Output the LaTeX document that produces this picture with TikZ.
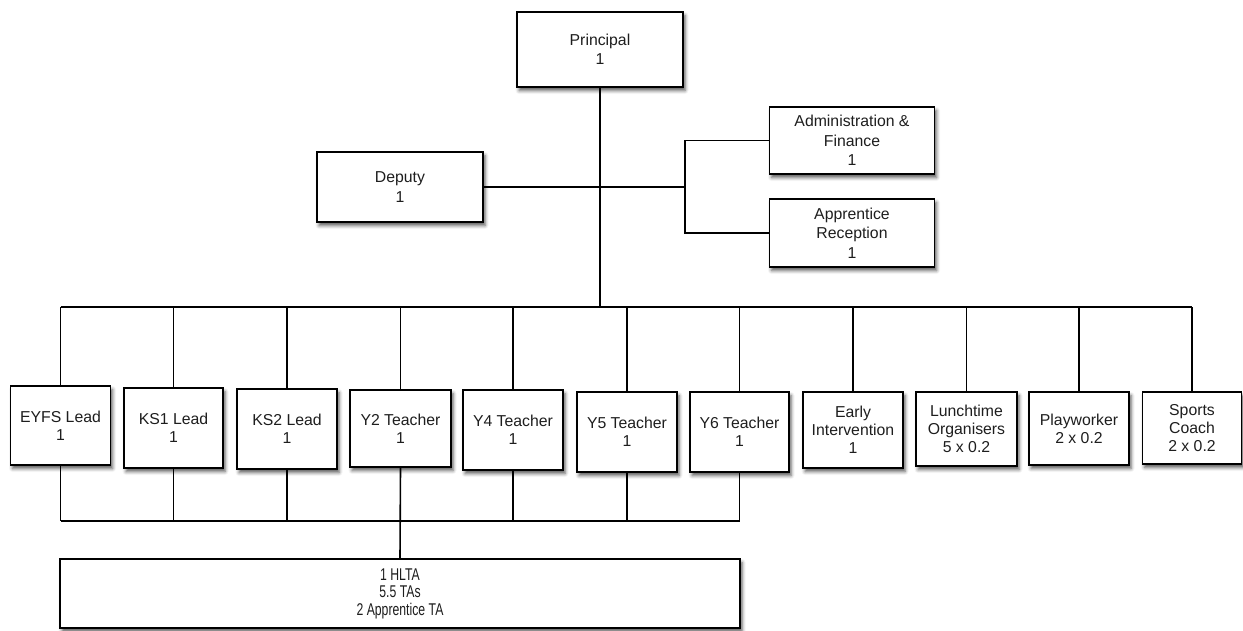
\documentclass[tikz,border=0pt]{standalone}
\usepackage{fontspec}
\setmainfont{Liberation Sans}
\newfontfamily\narrowfont[FakeStretch=0.72]{Liberation Sans}
\usetikzlibrary{shadows.blur}
\definecolor{ink}{HTML}{1E1E1E}

\begin{document}
\begin{tikzpicture}[x=1pt,y=-1pt,
  role/.style={draw=black, line width=1.8pt, fill=white, align=center,
    text=ink, font=\fontsize{15.8}{18}\selectfont, inner sep=2pt,
    blur shadow={shadow xshift=2pt, shadow yshift=-3.5pt,
      shadow blur radius=3.5pt, shadow opacity=65}},
  link/.style={draw=black, line width=1.6pt}]
\useasboundingbox (0,0) rectangle (1243,630);

% senior leadership
\node[role, minimum width=166, minimum height=75, font=\fontsize{15.8}{19.5}\selectfont]
  (principal) at (600,49.5) {Principal\\1};
\node[role, minimum width=166, minimum height=70, font=\fontsize{15.8}{19.5}\selectfont]
  (deputy) at (400,187) {Deputy\\1};
\node[role, minimum width=165, minimum height=67, font=\fontsize{15.8}{19.5}\selectfont]
  (admin) at (852,140.5) {Administration \&\\Finance\\1};
\node[role, minimum width=165, minimum height=68, font=\fontsize{15.8}{19.5}\selectfont]
  (reception) at (852,233) {Apprentice\\Reception\\1};

% teaching and support staff
\node[role, minimum width=100, minimum height=79] (eyfs) at (60.5,425.5) {EYFS Lead\\1};
\node[role, minimum width=99,  minimum height=80] (ks1)  at (173.5,428) {KS1 Lead\\1};
\node[role, minimum width=100, minimum height=80] (ks2)  at (287,429) {KS2 Lead\\1};
\node[role, minimum width=101, minimum height=77] (y2)   at (400.5,428.5) {Y2 Teacher\\1};
\node[role, minimum width=100, minimum height=80] (y4)   at (513,430) {Y4 Teacher\\1};
\node[role, minimum width=100, minimum height=80] (y5)   at (627,432) {Y5 Teacher\\1};
\node[role, minimum width=99,  minimum height=80] (y6)   at (739.5,432) {Y6 Teacher\\1};
\node[role, minimum width=100, minimum height=76] (early) at (853,430) {Early\\Intervention\\1};
\node[role, minimum width=101, minimum height=74] (lunch) at (966.5,429) {Lunchtime\\Organisers\\5 x 0.2};
\node[role, minimum width=100, minimum height=73] (play)  at (1079,428.5) {Playworker\\2 x 0.2};
\node[role, minimum width=99,  minimum height=72] (sports) at (1192,428) {Sports\\Coach\\2 x 0.2};

% teaching assistants
\node[role, minimum width=680, minimum height=69, font=\narrowfont\fontsize{17}{17.5}\selectfont]
  (tas) at (400,593.5) {1 HLTA\\5.5 TAs\\2 Apprentice TA};

% bus lines
\coordinate (topbus) at (0,307);
\coordinate (lowbus) at (0,521);
\coordinate (branch) at (685,187);

\path[link] (principal.south) -- (principal.south |- topbus);
\path[link] (deputy.east) -- (branch);
\path[link] (admin.west) -- (admin.west -| branch) -- (reception.west -| branch) -- (reception.west);
\path[link] (eyfs.north |- topbus) -- (sports.north |- topbus);
\foreach \n in {eyfs,ks1,ks2,y2,y4,y5,y6,early,lunch,play,sports}
  \path[link] (\n.north) -- (\n.north |- topbus);
\path[link] (eyfs.south |- lowbus) -- (y6.south |- lowbus);
\foreach \n in {eyfs,ks1,ks2,y4,y5,y6}
  \path[link] (\n.south) -- (\n.south |- lowbus);
\path[link] (y2.south) -- (tas.north);
\end{tikzpicture}
\end{document}
